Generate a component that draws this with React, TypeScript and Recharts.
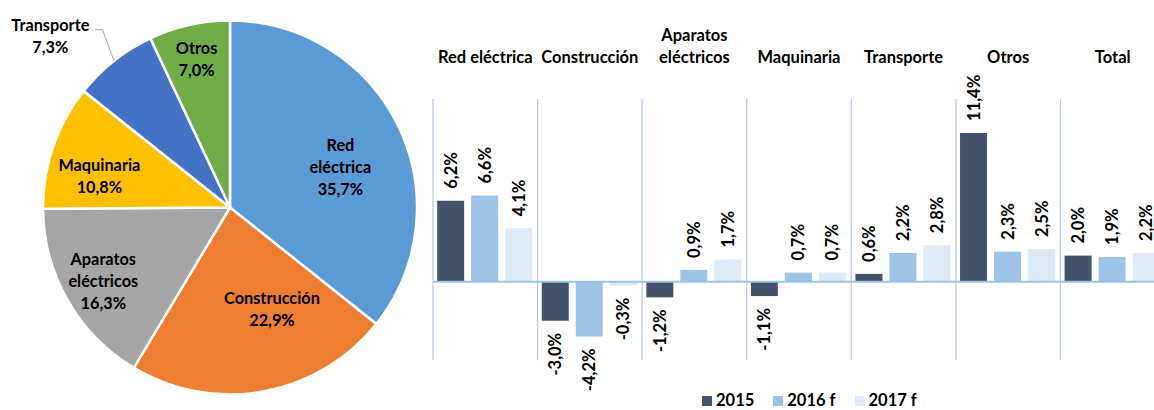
import React from 'react';
import {
  PieChart, Pie, Cell, BarChart, Bar, XAxis, YAxis, CartesianGrid, ReferenceLine,
} from 'recharts';

// pie: share of each sector
const SECTORS = ['Red eléctrica', 'Construcción', 'Aparatos eléctricos', 'Maquinaria', 'Transporte', 'Otros'];
const SHARES = [35.7, 22.9, 16.3, 10.8, 7.3, 7.0];
const SECTOR_COLORS = ['#5B9BD5', '#ED7D31', '#A5A5A5', '#FFC000', '#4472C4', '#70AD47'];

// bars: growth by sector
const CATEGORIES = ['Red eléctrica', 'Construcción', 'Aparatos eléctricos', 'Maquinaria', 'Transporte', 'Otros', 'Total'];
const Y2015 = [6.2, -3.0, -1.2, -1.1, 0.6, 11.4, 2.0];
const Y2016 = [6.6, -4.2, 0.9, 0.7, 2.2, 2.3, 1.9];
const Y2017 = [4.1, -0.3, 1.7, 0.7, 2.8, 2.5, 2.2];
const SERIES_NAMES = ['2015', '2016 f', '2017 f'];
const SERIES_COLORS = ['#44546A', '#9DC3E6', '#DEEBF7'];

const FONT = 'Lato, "Open Sans", sans-serif';
const RAD = Math.PI / 180;

// label placement inside the pie: [radius fraction, angle shift in degrees]
const PIE_LABEL_POS: [number, number][] = [
  [0.63, -5.3], [0.58, 12.5], [0.78, 0], [0.72, 5], [1.33, 7.9], [0.82, 0],
];

const pieData = SECTORS.map((name, i) => ({ name, value: SHARES[i] }));
const barData = CATEGORIES.map((cat, i) => ({ cat, y2015: Y2015[i], y2016: Y2016[i], y2017: Y2017[i] }));
const SERIES_KEYS = ['y2015', 'y2016', 'y2017'];

const pct = (v: number) => `${v.toFixed(1).replace('.', ',')}%`;

function polar(cx: number, cy: number, r: number, deg: number) {
  return { x: cx + r * Math.cos(-deg * RAD), y: cy + r * Math.sin(-deg * RAD) };
}

function PieLabel(props: any) {
  const { cx, cy, midAngle, outerRadius, index, name, value } = props;
  const [f, shift] = PIE_LABEL_POS[index];
  const p = polar(cx, cy, outerRadius * f, midAngle + shift);
  const lines = [...name.split(' '), pct(value)];
  const lh = 22;
  const y0 = p.y - ((lines.length - 1) * lh) / 2;
  let leader = null;
  if (f > 1) {
    const a = polar(cx, cy, outerRadius, midAngle);
    const b = polar(cx, cy, outerRadius * 1.17, midAngle - 2.7);
    leader = (
      <polyline
        points={`${a.x},${a.y} ${b.x},${b.y} ${b.x - 7},${b.y}`}
        fill="none" stroke="#A6A6A6" strokeWidth={1}
      />
    );
  }
  return (
    <g>
      {leader}
      <text x={p.x} y={y0} textAnchor="middle" dominantBaseline="central"
        fontFamily={FONT} fontSize={16.3} fontWeight={700} fill="#000">
        {lines.map((l, i) => (
          <tspan key={i} x={p.x} dy={i === 0 ? 0 : lh}>{l}</tspan>
        ))}
      </text>
    </g>
  );
}

function CategoryTick(props: any) {
  const { x, y, payload } = props;
  const label: string = payload.value;
  const lines = label.length > 15 ? label.split(' ') : [label];
  const base = y - 28;
  return (
    <text x={x} y={base - (lines.length - 1) * 22} textAnchor="middle"
      fontFamily={FONT} fontSize={16.5} fontWeight={700} fill="#000">
      {lines.map((l, i) => (
        <tspan key={i} x={x} dy={i === 0 ? 0 : 22}>{l}</tspan>
      ))}
    </text>
  );
}

function ValueLabel(props: any) {
  const { x, y, width, height, value } = props;
  if (value == null) return null;
  const top = Math.min(y, y + height);
  const bottom = Math.max(y, y + height);
  const cx = x + width / 2;
  const neg = value < 0;
  const ay = neg ? bottom + 12 : top - 12;
  return (
    <text x={cx} y={ay} transform={`rotate(-90 ${cx} ${ay})`}
      textAnchor={neg ? 'end' : 'start'} dominantBaseline="central"
      fontFamily={FONT} fontSize={16.5} fontWeight={700} fill="#000">
      {pct(value)}
    </text>
  );
}

const MARGIN = { top: 39, right: 5, bottom: 50, left: 13 };

function boundaries(props: any) {
  const off = props?.offset ?? { left: MARGIN.left, width: 750 - MARGIN.left - MARGIN.right };
  const n = CATEGORIES.length;
  const xs: number[] = [];
  for (let i = 0; i <= n; i++) xs.push(off.left + (i * off.width) / n);
  return xs;
}

export default function App() {
  return (
    <div style={{ position: 'relative', width: 1154, height: 410, overflow: 'hidden', background: '#fff', fontFamily: FONT }}>
      <style>{'body{margin:0}'}</style>

      <div style={{ position: 'absolute', left: 0, top: 0 }}>
        <PieChart width={430} height={410}>
          <Pie
            data={pieData} dataKey="value" nameKey="name"
            cx={225} cy={202.5} outerRadius={187}
            startAngle={90} endAngle={-270}
            stroke="#fff" strokeWidth={2.5}
            labelLine={false} label={PieLabel}
            isAnimationActive={false}
          >
            {pieData.map((d, i) => <Cell key={d.name} fill={SECTOR_COLORS[i]} />)}
          </Pie>
        </PieChart>
      </div>

      <div style={{ position: 'absolute', left: 420, top: 0 }}>
        <BarChart width={750} height={410} data={barData} margin={MARGIN}
          barCategoryGap="4%" barGap={7}>
          <CartesianGrid horizontal={false} stroke="#B4C7E7" strokeWidth={1.2}
            verticalCoordinatesGenerator={boundaries} />
          <XAxis dataKey="cat" orientation="top" axisLine={false} tickLine={false}
            height={60} interval={0} tick={<CategoryTick />} />
          <YAxis hide domain={[-6, 14]} />
          <ReferenceLine y={0} stroke="#9DC3E6" strokeWidth={2} />
          {SERIES_KEYS.map((k, i) => (
            <Bar key={k} dataKey={k} name={SERIES_NAMES[i]} fill={SERIES_COLORS[i]}
              label={<ValueLabel />} isAnimationActive={false} />
          ))}
        </BarChart>
      </div>

      {/* legend */}
      <div style={{ position: 'absolute', left: 702, top: 392, display: 'flex', alignItems: 'center', fontSize: 16.5, fontWeight: 700, color: '#000', lineHeight: '17px' }}>
        {SERIES_NAMES.map((n, i) => (
          <span key={n} style={{ display: 'flex', alignItems: 'center', marginRight: 19 }}>
            <span style={{ display: 'inline-block', width: 10, height: 10, background: SERIES_COLORS[i], marginRight: 4 }} />
            {n}
          </span>
        ))}
      </div>
    </div>
  );
}
